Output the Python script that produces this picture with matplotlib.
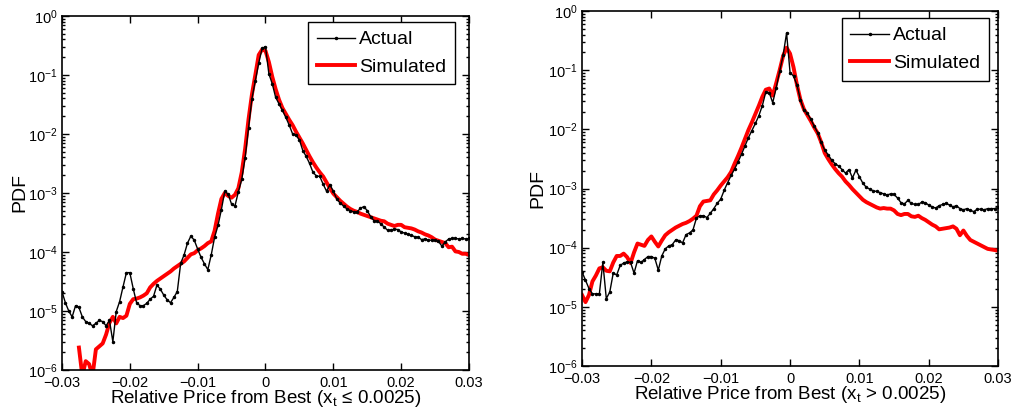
import numpy as np
import matplotlib
matplotlib.use("Agg")
import matplotlib.pyplot as plt
from matplotlib.ticker import LogLocator, NullFormatter, FixedLocator

plt.rcParams['font.family'] = ['Liberation Sans', 'DejaVu Sans']
plt.rcParams['mathtext.fontset'] = 'custom'
plt.rcParams['mathtext.rm'] = 'Liberation Sans'

# price grid (relative price from best), step 0.0005
price = np.round(np.arange(-0.03, 0.03001, 0.0005), 4)

# ---- left panel (x_t <= 0.0025): log10 PDF ----
left_actual_log = [
    -4.67, -4.86, -5.00, -5.10, -4.91, -4.94, -5.10, -5.18, -5.21, -5.25,
    -5.21, -5.16, -5.18, -5.25, -5.16, -5.52, -5.01, -4.84, -4.59, -4.35,
    -4.35, -4.62, -4.86, -4.91, -4.91, -4.87, -4.80, -4.75, -4.56, -4.63,
    -4.73, -4.81, -4.86, -4.77, -4.67, -4.19, -4.05, -3.85, -3.73, -3.80,
    -3.95, -4.09, -4.20, -4.30, -4.05, -3.75, -3.55, -3.28, -2.97, -3.02,
    -3.19, -3.22, -2.98, -2.77, -2.40, -1.90, -1.40, -1.10, -0.80, -0.55,
    -0.52, -0.98, -1.15, -1.38, -1.49, -1.60, -1.72, -1.85, -2.00, -2.02,
    -2.10, -2.28, -2.38, -2.50, -2.65, -2.71, -2.72, -2.85, -2.97, -2.86,
    -2.97, -3.10, -3.17, -3.22, -3.27, -3.30, -3.32, -3.32, -3.26, -3.23,
    -3.30, -3.40, -3.47, -3.48, -3.52, -3.58, -3.63, -3.63, -3.61, -3.62,
    -3.66, -3.68, -3.70, -3.72, -3.74, -3.75, -3.79, -3.78, -3.80, -3.80,
    -3.80, -3.82, -3.90, -3.83, -3.78, -3.77, -3.77, -3.78, -3.77, -3.78,
    -3.77,
]
left_sim_log = [
    np.nan, np.nan, np.nan, np.nan, np.nan, -5.62, -6.10, -5.85, -5.90, -6.10,
    -5.65, -5.60, -5.55, -5.40, -5.20, -5.10, -5.21, -5.10, -5.12, -5.08,
    -4.88, -4.80, -4.79, -4.77, -4.74, -4.70, -4.60, -4.54, -4.49, -4.45,
    -4.41, -4.37, -4.33, -4.28, -4.24, -4.20, -4.16, -4.10, -4.04, -4.02,
    -3.97, -3.94, -3.90, -3.85, -3.82, -3.64, -3.35, -3.10, -3.00, -3.05,
    -3.08, -3.03, -2.92, -2.65, -2.25, -1.75, -1.33, -1.00, -0.66, -0.57,
    -0.59, -0.78, -1.03, -1.24, -1.42, -1.56, -1.66, -1.76, -1.85, -1.96,
    -2.06, -2.16, -2.27, -2.38, -2.48, -2.57, -2.65, -2.72, -2.82, -2.92,
    -3.01, -3.07, -3.13, -3.18, -3.23, -3.27, -3.30, -3.32, -3.35, -3.37,
    -3.39, -3.41, -3.43, -3.45, -3.47, -3.48, -3.52, -3.54, -3.56, -3.54,
    -3.54, -3.58, -3.59, -3.60, -3.62, -3.65, -3.67, -3.70, -3.72, -3.75,
    -3.79, -3.81, -3.83, -3.85, -3.92, -3.91, -3.99, -4.00, -4.03, -4.03,
    -4.05,
]

# ---- right panel (x_t > 0.0025): log10 PDF ----
right_actual_log = [
    -4.41, -4.55, -4.69, -4.78, -4.78, -4.78, -4.25, -4.86, -4.75, -4.43,
    -4.46, -4.30, -4.26, -4.24, -4.25, -4.43, -4.22, -4.25, -4.20, -4.15,
    -4.15, -4.18, -4.38, -4.14, -4.02, -3.97, -3.95, -3.87, -3.88, -3.92,
    -3.78, -3.75, -3.70, -3.50, -3.46, -3.46, -3.49, -3.42, -3.34, -3.25,
    -3.18, -3.03, -2.90, -2.78, -2.67, -2.55, -2.42, -2.28, -2.14, -2.02,
    -1.90, -1.77, -1.60, -1.37, -1.38, -1.55, -1.30, -1.02, -0.75, -0.37,
    -1.04, -1.10, -1.25, -1.50, -1.67, -1.73, -1.83, -1.95, -2.06, -2.22,
    -2.35, -2.43, -2.52, -2.58, -2.62, -2.68, -2.74, -2.68, -2.82, -2.69,
    -2.80, -2.91, -2.98, -3.01, -3.04, -3.05, -3.07, -3.09, -3.11, -3.09,
    -3.10, -3.16, -3.24, -3.26, -3.20, -3.25, -3.27, -3.27, -3.23, -3.24,
    -3.28, -3.31, -3.33, -3.29, -3.27, -3.25, -3.28, -3.31, -3.29, -3.34,
    -3.36, -3.34, -3.37, -3.39, -3.35, -3.35, -3.36, -3.34, -3.34, -3.34,
    -3.32,
]
right_sim_log = [
    -4.80, -4.92, -4.80, -4.57, -4.47, -4.35, -4.33, -4.39, -4.40, -4.25,
    -4.14, -4.14, -4.10, -4.16, -4.26, -4.08, -3.93, -3.95, -3.97, -3.87,
    -3.81, -3.90, -3.98, -3.88, -3.79, -3.74, -3.70, -3.66, -3.63, -3.60,
    -3.58, -3.55, -3.51, -3.46, -3.30, -3.22, -3.21, -3.20, -3.10, -3.03,
    -2.95, -2.88, -2.81, -2.72, -2.58, -2.45, -2.31, -2.16, -2.01, -1.88,
    -1.74, -1.60, -1.45, -1.33, -1.31, -1.43, -1.22, -1.00, -0.76, -0.62,
    -0.72, -0.95, -1.25, -1.50, -1.66, -1.76, -1.86, -1.97, -2.07, -2.22,
    -2.40, -2.50, -2.59, -2.67, -2.74, -2.80, -2.88, -2.94, -3.01, -3.07,
    -3.13, -3.19, -3.23, -3.26, -3.29, -3.32, -3.34, -3.33, -3.34, -3.34,
    -3.37, -3.43, -3.45, -3.43, -3.43, -3.47, -3.48, -3.46, -3.50, -3.53,
    -3.57, -3.61, -3.64, -3.69, -3.68, -3.67, -3.66, -3.64, -3.68, -3.79,
    -3.71, -3.80, -3.87, -3.90, -3.93, -3.96, -3.99, -4.02, -4.03, -4.04,
    -4.05,
]

xtick_vals = [-0.03, -0.02, -0.01, 0, 0.01, 0.02, 0.03]
xtick_labels = ["\u22120.03", "\u22120.02", "\u22120.01", "0", "0.01", "0.02", "0.03"]
xlabels = ["Relative Price from Best (x$_\\mathregular{t}$ \u2264 0.0025)",
           "Relative Price from Best (x$_\\mathregular{t}$ > 0.0025)"]

fig = plt.figure(figsize=(10.11, 4.09), dpi=100)
ax_rects = [[0.0613, 0.0954, 0.4026, 0.8655], [0.5757, 0.1051, 0.4115, 0.8680]]
legend_anchor = [(0.966, 0.983), (0.978, 0.980)]
ylabel_pad = [-0.5, 1.5]
panels = [(left_actual_log, left_sim_log), (right_actual_log, right_sim_log)]

for k, (act, sim) in enumerate(panels):
    ax = fig.add_axes(ax_rects[k])
    ax.plot(price, 10 ** np.array(act), color='black', lw=1.0, marker='.',
            ms=3, label='Actual', zorder=3)
    ax.plot(price, 10 ** np.array(sim), color='#ff0000', lw=2.8,
            label='Simulated', zorder=2)
    ax.set_yscale('log')
    ax.set_xlim(-0.03, 0.03)
    ax.set_ylim(1e-6, 1)
    ax.xaxis.set_major_locator(FixedLocator(xtick_vals))
    ax.set_xticklabels(xtick_labels)
    ax.yaxis.set_major_locator(LogLocator(base=10, numticks=10))
    ax.yaxis.set_minor_locator(LogLocator(base=10, subs=np.arange(2, 10), numticks=20))
    ax.yaxis.set_minor_formatter(NullFormatter())
    ax.tick_params(which='both', direction='in', top=True, right=True,
                   labelsize=10.5, width=1.0)
    ax.tick_params(axis='x', pad=4)
    ax.tick_params(axis='y', pad=3)
    ax.tick_params(which='major', length=5)
    ax.tick_params(which='minor', length=2.5)
    for s in ax.spines.values():
        s.set_linewidth(1.2)
    ax.set_xlabel(xlabels[k], fontsize=13.5, labelpad=-1)
    ax.set_ylabel('PDF', fontsize=14, labelpad=ylabel_pad[k])
    leg = ax.legend(loc='upper right', bbox_to_anchor=legend_anchor[k],
                    borderaxespad=0, fontsize=14, fancybox=False,
                    edgecolor='black', framealpha=1, numpoints=1,
                    handlelength=2.0, handletextpad=0.2, labelspacing=0.5,
                    borderpad=0.45)
    leg.get_frame().set_linewidth(1.0)

fig.savefig('out.png', dpi=100)
